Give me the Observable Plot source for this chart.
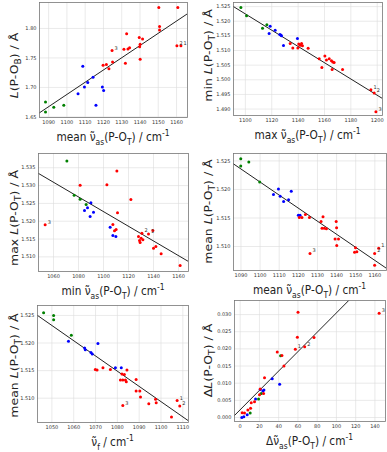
<!DOCTYPE html>
<html><head><meta charset="utf-8">
<script src="https://cdn.jsdelivr.net/npm/d3@7"></script>
<script src="https://cdn.jsdelivr.net/npm/@observablehq/plot@0.6"></script>
<style>
html,body{margin:0;padding:0;background:#fff;}
#fig{position:relative;width:387px;height:452px;overflow:hidden;background:#fff;}
#fig svg{position:absolute;}
</style></head><body><div id="fig"></div>
<script>
const groupNames = ["green", "blue", "red"];
const groupColors = ["#70f030", "#2236e6", "#f01616"];

// Panel 1: L(P-OB) vs mean nu_as(P-OT)
const p1GX = [1088.3, 1088.3, 1092.8, 1098.3];
const p1GY = [1.6753, 1.6584, 1.6663, 1.6697];
const p1BX = [1108.7, 1106.1, 1109.6, 1111.4, 1114.3, 1115.9, 1119.4, 1120.1];
const p1BY = [1.7360, 1.6893, 1.7006, 1.7084, 1.7174, 1.6697, 1.7006, 1.6949];
const p1RX = [1119.8, 1121.6, 1123.0, 1125.0, 1124.7, 1132.0, 1131.2, 1132.7, 1133.4, 1134.3, 1139.6, 1141.4, 1139.8, 1140.1, 1140.1, 1150.3, 1150.7, 1150.7, 1160.7, 1160.2, 1162.4];
const p1RY = [1.7376, 1.7388, 1.7315, 1.7433, 1.7624, 1.7410, 1.7646, 1.7910, 1.7652, 1.7674, 1.7848, 1.7820, 1.7691, 1.7730, 1.7478, 1.8354, 1.8034, 1.7972, 1.8354, 1.7708, 1.7708];
const p1NoteX = [1124.7, 1160.2, 1162.4];
const p1NoteY = [1.7624, 1.7708, 1.7708];
const p1NoteT = ["3", "2", "1"];
const p1FitX = [1085, 1166];
const p1FitY = [1.657, 1.825];
const p1XTicks = [1090, 1100, 1110, 1120, 1130, 1140, 1150, 1160];
const p1YTicks = [1.65, 1.70, 1.75, 1.80];

// Panel 2: min L(P-OT) vs max nu_as(P-OT)
const p2GX = [1096.6, 1100.9, 1113.0, 1116.3];
const p2GY = [1.5247, 1.5219, 1.5176, 1.5188];
const p2BX = [1118.8, 1118.0, 1122.6, 1126.1, 1126.9, 1127.4, 1128.9, 1139.5];
const p2BY = [1.5183, 1.5158, 1.5169, 1.5155, 1.5153, 1.5150, 1.5117, 1.5141];
const p2RX = [1134.0, 1136.0, 1139.8, 1140.5, 1141.6, 1142.6, 1143.3, 1147.6, 1156.0, 1158.0, 1160.3, 1161.5, 1163.6, 1165.3, 1166.3, 1167.3, 1165.8, 1173.7, 1195.2, 1197.7, 1199.0];
const p2RY = [1.5124, 1.5109, 1.5109, 1.5122, 1.5118, 1.5124, 1.5116, 1.5108, 1.5072, 1.5042, 1.5081, 1.5068, 1.5072, 1.5065, 1.5061, 1.5059, 1.5035, 1.5035, 1.4966, 1.4955, 1.4891];
const p2NoteX = [1195.2, 1197.7, 1199.0];
const p2NoteY = [1.4966, 1.4955, 1.4891];
const p2NoteT = ["1", "2", "3"];
const p2FitX = [1091, 1204];
const p2FitY = [1.5250, 1.4936];
const p2XTicks = [1100, 1120, 1140, 1160, 1180, 1200];
const p2YTicks = [1.490, 1.495, 1.500, 1.505, 1.510, 1.515, 1.520, 1.525];

// Panel 3: max L(P-OT) vs min nu_as(P-OT)
const p3GX = [1070.7, 1076.5, 1081.3, 1086.1];
const p3GY = [1.5369, 1.5273, 1.5262, 1.5247];
const p3BX = [1084.8, 1087.2, 1089.9, 1089.3, 1092.0, 1105.3, 1107.5, 1109.9];
const p3BY = [1.5230, 1.5238, 1.5252, 1.5213, 1.5225, 1.5183, 1.5160, 1.5157];
const p3RX = [1053.3, 1081.3, 1102.7, 1110.7, 1111.2, 1110.1, 1107.5, 1108.8, 1121.9, 1128.0, 1128.8, 1129.3, 1130.1, 1131.5, 1130.7, 1136.0, 1139.5, 1140.0, 1141.9, 1146.1, 1161.3];
const p3RY = [1.5190, 1.5301, 1.5302, 1.5341, 1.5224, 1.5177, 1.5191, 1.5173, 1.5261, 1.5157, 1.5146, 1.5140, 1.5152, 1.5148, 1.5166, 1.5164, 1.5174, 1.5124, 1.5129, 1.5109, 1.5076];
const p3NoteX = [1053.3, 1130.7, 1136.0];
const p3NoteY = [1.5190, 1.5166, 1.5164];
const p3NoteT = ["3", "2", "1"];
const p3FitX = [1048, 1168];
const p3FitY = [1.5334, 1.5087];
const p3XTicks = [1060, 1080, 1100, 1120, 1140, 1160];
const p3YTicks = [1.510, 1.515, 1.520, 1.525, 1.530, 1.535];

// Panel 4: mean L(P-OT) vs mean nu_as(P-OT)
const p4GX = [1089.9, 1089.9, 1094.1, 1099.8];
const p4GY = [1.5254, 1.5241, 1.5248, 1.5213];
const p4BX = [1107.0, 1109.6, 1110.5, 1112.3, 1114.9, 1116.3, 1120.0, 1120.9];
const p4BY = [1.5191, 1.5201, 1.5188, 1.5179, 1.5182, 1.5197, 1.5155, 1.5155];
const p4RX = [1120.5, 1121.9, 1123.7, 1125.8, 1126.1, 1131.9, 1132.4, 1132.9, 1133.6, 1134.7, 1139.8, 1140.0, 1139.2, 1141.0, 1140.1, 1149.9, 1150.6, 1149.4, 1159.9, 1162.0, 1159.9];
const p4RY = [1.5151, 1.5151, 1.5156, 1.5151, 1.5088, 1.5144, 1.5132, 1.5152, 1.5132, 1.5131, 1.5144, 1.5133, 1.5113, 1.5113, 1.5102, 1.5098, 1.5091, 1.5090, 1.5088, 1.5097, 1.5067];
const p4NoteX = [1126.1, 1159.9, 1162.0];
const p4NoteY = [1.5088, 1.5088, 1.5097];
const p4NoteT = ["3", "2", "1"];
const p4FitX = [1086, 1166];
const p4FitY = [1.5245, 1.5062];
const p4XTicks = [1090, 1100, 1110, 1120, 1130, 1140, 1150, 1160];
const p4YTicks = [1.510, 1.515, 1.520, 1.525];

// Panel 5: mean L(P-OT) vs nu_f
const p5GX = [1046.2, 1050.8, 1050.8, 1058.9];
const p5GY = [1.5255, 1.5250, 1.5242, 1.5214];
const p5BX = [1057.6, 1065.0, 1065.3, 1067.9, 1068.5, 1071.1, 1079.1, 1081.8];
const p5BY = [1.5203, 1.5191, 1.5188, 1.5183, 1.5180, 1.5199, 1.5155, 1.5155];
const p5RX = [1069.9, 1070.7, 1073.4, 1076.8, 1081.4, 1082.5, 1082.1, 1083.2, 1083.7, 1084.1, 1084.4, 1082.5, 1088.6, 1088.6, 1090.3, 1090.6, 1094.4, 1097.5, 1097.8, 1104.8, 1107.4, 1108.6];
const p5RY = [1.5152, 1.5151, 1.5155, 1.5152, 1.5133, 1.5133, 1.5144, 1.5143, 1.5133, 1.5130, 1.5151, 1.5087, 1.5134, 1.5113, 1.5113, 1.5102, 1.5090, 1.5098, 1.5092, 1.5066, 1.5096, 1.5086];
const p5NoteX = [1082.5, 1107.4, 1108.6];
const p5NoteY = [1.5087, 1.5096, 1.5086];
const p5NoteT = ["3", "1", "2"];
const p5FitX = [1043.4, 1112.6];
const p5FitY = [1.5250, 1.5059];
const p5XTicks = [1050, 1060, 1070, 1080, 1090, 1100, 1110];
const p5YTicks = [1.510, 1.515, 1.520, 1.525];

// Panel 6: delta L(P-OT) vs delta nu_as(P-OT)
const p6GX = [10.4, 19.1, 21.9, 42.0];
const p6GY = [0.0013, 0.0054, 0.0070, 0.0180];
const p6BX = [1.7, 3.8, 7.3, 16.0, 20.8, 23.6, 24.7, 33.3, 41.0];
const p6BY = [0.0000, 0.0002, 0.0008, 0.0054, 0.0082, 0.0077, 0.0080, 0.0113, 0.0097];
const p6RX = [2.1, 4.5, 8.0, 10.8, 11.5, 14.9, 20.1, 20.8, 24.3, 25.3, 38.5, 43.4, 45.5, 57.3, 59.4, 60.1, 67.0, 76.7, 144.4];
const p6RY = [0.0014, 0.0013, 0.0022, 0.0027, 0.0043, 0.0046, 0.0066, 0.0083, 0.0070, 0.0116, 0.0191, 0.0181, 0.0150, 0.0199, 0.0234, 0.0307, 0.0206, 0.0233, 0.0304];
const p6NoteX = [57.3, 67.0, 144.4];
const p6NoteY = [0.0199, 0.0206, 0.0304];
const p6NoteT = ["1", "2", "3"];
const p6FitX = [-5.9, 112.8];
const p6FitY = [0.0006, 0.0341];
const p6XTicks = [0, 20, 40, 60, 80, 100, 120, 140];
const p6YTicks = [0.000, 0.005, 0.010, 0.015, 0.020, 0.025, 0.030];

const NU = "\u03BD\u0303";
const labelMeanNu = ["mean " + NU, ["as", "sub"], "(P-O", ["T", "sub"], ") / cm", ["-1", "sup"]];
const labelMaxNu = ["max " + NU, ["as", "sub"], "(P-O", ["T", "sub"], ") / cm", ["-1", "sup"]];
const labelMinNu = ["min " + NU, ["as", "sub"], "(P-O", ["T", "sub"], ") / cm", ["-1", "sup"]];
const labelNuF = [NU, ["f", "sub"], " / cm", ["-1", "sup"]];
const labelDNu = ["\u0394" + NU, ["as", "sub"], "(P-O", ["T", "sub"], ") / cm", ["-1", "sup"]];
const labelLB = [["L", "i"], "(P-O", ["B", "sub"], ") / \u00C5"];
const labelMinL = ["min ", ["L", "i"], "(P-O", ["T", "sub"], ") / \u00C5"];
const labelMaxL = ["max ", ["L", "i"], "(P-O", ["T", "sub"], ") / \u00C5"];
const labelMeanL = ["mean ", ["L", "i"], "(P-O", ["T", "sub"], ") / \u00C5"];
const labelDL = ["\u0394", ["L", "i"], "(P-O", ["T", "sub"], ") / \u00C5"];

const FONT = "DejaVu Sans, sans-serif";

function richText(sel, parts, fs) {
  let shift = 0;
  for (const p of parts) {
    const [str, kind] = typeof p === "string" ? [p, ""] : p;
    let target = 0, size = fs, style = "normal";
    if (kind === "sub") { target = 0.3 * fs; size = 0.72 * fs; }
    else if (kind === "sup") { target = -0.42 * fs; size = 0.72 * fs; }
    else if (kind === "i") { style = "italic"; }
    sel.append("tspan").attr("dy", target - shift).attr("font-size", size)
      .attr("font-style", style).text(str);
    shift = target;
  }
}

function panel(o) {
  const pts = [];
  [["green", o.gx, o.gy], ["blue", o.bx, o.by], ["red", o.rx, o.ry]].forEach(([grp, xs, ys]) =>
    xs.forEach((x, i) => pts.push({x, y: ys[i], grp})));
  const notes = o.noteT.map((t, i) => ({x: o.noteX[i], y: o.noteY[i], t}));
  const fit = o.fitX.map((x, i) => ({x, y: o.fitY[i]}));
  const [mt, mr, mb, ml] = o.m;
  const chart = Plot.plot({
    width: o.w, height: o.h,
    marginTop: mt, marginRight: mr, marginBottom: mb, marginLeft: ml,
    x: {domain: o.xDom},
    y: {domain: o.yDom},
    color: {domain: groupNames, range: groupColors},
    style: {fontFamily: FONT, background: "transparent", overflow: "visible", color: "#333"},
    marks: [
      Plot.gridX(o.xTicks, {stroke: "#dcdcdc", strokeOpacity: 1, strokeWidth: 0.6}),
      Plot.gridY(o.yTicks, {stroke: "#dcdcdc", strokeOpacity: 1, strokeWidth: 0.6}),
      Plot.line(fit, {x: "x", y: "y", stroke: "#222", strokeWidth: 1, clip: true}),
      Plot.dot(pts, {x: "x", y: "y", fill: "grp", r: 1.5}),
      Plot.text(notes, {x: "x", y: "y", text: "t", dx: 2.5, dy: -2.5, fontSize: 5, textAnchor: "start", fill: "#333"}),
      Plot.axisX({ticks: o.xTicks, tickSize: 0, tickPadding: 2.5, tickFormat: o.xFmt, fontSize: 5, label: null}),
      Plot.axisY({ticks: o.yTicks, tickSize: 0, tickPadding: 3, tickFormat: o.yFmt, fontSize: 5, label: null}),
      Plot.frame({stroke: "#777", strokeWidth: 0.8})
    ]
  });
  chart.style.position = "absolute";
  chart.style.left = o.left + "px";
  chart.style.top = o.top + "px";
  const svg = d3.select(chart);
  const cx = ml + (o.w - ml - mr) / 2;
  const xt = svg.append("text")
    .attr("transform", `translate(${cx},${o.h - mb + 24}) scale(0.88,1)`)
    .attr("text-anchor", "middle").attr("font-family", FONT).attr("fill", "#222");
  richText(xt, o.xLabel, 12);
  const cy = mt + (o.h - mt - mb) / 2 + o.yOff;
  const yt = svg.append("text")
    .attr("transform", `translate(17.5,${cy}) scale(0.88,1) rotate(-90)`)
    .attr("text-anchor", "middle").attr("font-family", FONT).attr("fill", "#222");
  richText(yt, o.yLabel, 12.5);
  document.getElementById("fig").appendChild(chart);
}

const fInt = d3.format("d");
panel({left: 0, top: 0, w: 194, h: 148, m: [2, 7, 31, 39], yOff: 6,
  gx: p1GX, gy: p1GY, bx: p1BX, by: p1BY, rx: p1RX, ry: p1RY,
  noteX: p1NoteX, noteY: p1NoteY, noteT: p1NoteT, fitX: p1FitX, fitY: p1FitY,
  xDom: [1085, 1166], yDom: [1.649, 1.844], xTicks: p1XTicks, yTicks: p1YTicks,
  xFmt: fInt, yFmt: d3.format(".2f"), xLabel: labelMeanNu, yLabel: labelLB});
panel({left: 194, top: 0, w: 193, h: 148, m: [2, 5, 33, 39], yOff: -3,
  gx: p2GX, gy: p2GY, bx: p2BX, by: p2BY, rx: p2RX, ry: p2RY,
  noteX: p2NoteX, noteY: p2NoteY, noteT: p2NoteT, fitX: p2FitX, fitY: p2FitY,
  xDom: [1091, 1204], yDom: [1.4878, 1.5264], xTicks: p2XTicks, yTicks: p2YTicks,
  xFmt: fInt, yFmt: d3.format(".3f"), xLabel: labelMaxNu, yLabel: labelMinL});
panel({left: 0, top: 148, w: 194, h: 150, m: [5, 6, 27, 38], yOff: 6,
  gx: p3GX, gy: p3GY, bx: p3BX, by: p3BY, rx: p3RX, ry: p3RY,
  noteX: p3NoteX, noteY: p3NoteY, noteT: p3NoteT, fitX: p3FitX, fitY: p3FitY,
  xDom: [1048, 1168], yDom: [1.5059, 1.5390], xTicks: p3XTicks, yTicks: p3YTicks,
  xFmt: fInt, yFmt: d3.format(".3f"), xLabel: labelMinNu, yLabel: labelMaxL});
panel({left: 194, top: 148, w: 193, h: 150, m: [5, 1, 28, 39], yOff: 0,
  gx: p4GX, gy: p4GY, bx: p4BX, by: p4BY, rx: p4RX, ry: p4RY,
  noteX: p4NoteX, noteY: p4NoteY, noteT: p4NoteT, fitX: p4FitX, fitY: p4FitY,
  xDom: [1086.1, 1166.1], yDom: [1.5058, 1.5263], xTicks: p4XTicks, yTicks: p4YTicks,
  xFmt: fInt, yFmt: d3.format(".3f"), xLabel: labelMeanNu, yLabel: labelMeanL});
panel({left: 0, top: 298, w: 194, h: 154, m: [7, 6, 30, 37], yOff: 2,
  gx: p5GX, gy: p5GY, bx: p5BX, by: p5BY, rx: p5RX, ry: p5RY,
  noteX: p5NoteX, noteY: p5NoteY, noteT: p5NoteT, fitX: p5FitX, fitY: p5FitY,
  xDom: [1043.4, 1112.6], yDom: [1.5056, 1.5268], xTicks: p5XTicks, yTicks: p5YTicks,
  xFmt: fInt, yFmt: d3.format(".3f"), xLabel: labelNuF, yLabel: labelMeanL});
panel({left: 194, top: 298, w: 193, h: 154, m: [2, 2, 31, 40], yOff: 0,
  gx: p6GX, gy: p6GY, bx: p6BX, by: p6BY, rx: p6RX, ry: p6RY,
  noteX: p6NoteX, noteY: p6NoteY, noteT: p6NoteT, fitX: p6FitX, fitY: p6FitY,
  xDom: [-5.9, 151], yDom: [-0.00116, 0.0341], xTicks: p6XTicks, yTicks: p6YTicks,
  xFmt: fInt, yFmt: d3.format(".3f"), xLabel: labelDNu, yLabel: labelDL});
</script></body></html>
